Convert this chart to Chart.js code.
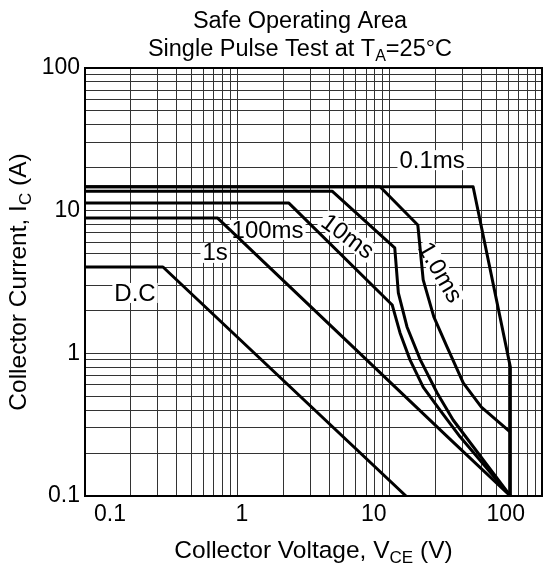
<!DOCTYPE html>
<html>
<head>
<meta charset="utf-8">
<script src="https://cdn.jsdelivr.net/npm/chart.js@4.4.0/dist/chart.umd.min.js"></script>
<style>
  html, body { margin: 0; padding: 0; background: #fff; }
  #wrap { width: 556px; height: 565px; }
</style>
</head>
<body>
<div id="wrap"><canvas id="soa" width="556" height="565"></canvas></div>
<script>
// curve points as [V_CE (V), I_C (A)]
const curveDC = [[0.1, 4.03], [0.325, 4.03], [12.8, 0.1]];
const curve1s = [[0.1, 8.9], [0.74, 8.9], [24, 0.26], [62, 0.1]];
const curve100ms = [[0.1, 11.3], [2.18, 11.3], [10.4, 2.18], [11.7, 1.39], [13.6, 0.9],
  [16.6, 0.58], [21.4, 0.4], [29, 0.26], [62, 0.1]];
const curve10ms = [[0.1, 13.7], [4.19, 13.7], [10.8, 5.49], [11.4, 2.65], [13, 1.53],
  [15.9, 0.9], [20.5, 0.527], [26.1, 0.341], [62, 0.1]];
const curve1ms = [[0.1, 14.7], [8.65, 14.7], [15.3, 7.94], [16.6, 3.27], [19.5, 1.8], [23.8, 1.11],
  [30.4, 0.62], [40, 0.42], [62, 0.28]];
const curve01ms = [[0.1, 14.7], [35.3, 14.7], [62, 0.8], [62, 0.1]];

const xTickLabels = ['0.1', '1', '10', '100'];
const yTickLabels = [0.1, 1, 10, 100];

const curveLabels = [
  { text: '0.1ms', v: 19.0, i: 22.6, angle: 0 },
  { text: '1.0ms', v: 21.5, i: 3.7, angle: 60 },
  { text: '10ms', v: 5.3, i: 6.6, angle: 36 },
  { text: '100ms', v: 1.58, i: 7.33, angle: 0 },
  { text: '1s', v: 0.715, i: 5.06, angle: 0 },
  { text: 'D.C', v: 0.213, i: 2.65, angle: 0 }
];

const FONT = '"Liberation Sans", Arial, sans-serif';

// log grid: 1..9 per decade
function logGrid(min, max) {
    const out = [];
    for (let e = Math.floor(Math.log10(min)); e <= Math.ceil(Math.log10(max)); e++) {
        for (let d = 1; d <= 9; d++) {
            const v = parseFloat((d * Math.pow(10, e)).toPrecision(3));
            if (v >= min && v <= max) out.push({ value: v });
        }
    }
    return out;
}

function drawRich(ctx, parts, x, y, size) {
    let w = 0;
    parts.forEach(p => {
        ctx.font = (p.sub ? Math.round(size * 0.68) : size) + 'px ' + FONT;
        p.w = ctx.measureText(p.t).width;
        w += p.w;
    });
    let cx = x - w / 2;
    ctx.textAlign = 'left';
    ctx.textBaseline = 'alphabetic';
    parts.forEach(p => {
        ctx.font = (p.sub ? Math.round(size * 0.68) : size) + 'px ' + FONT;
        ctx.fillText(p.t, cx, p.sub ? y + size * 0.22 : y);
        cx += p.w;
    });
}

const textPlugin = {
    id: 'textPlugin',
    beforeDatasetsDraw(chart) {
        const { ctx, scales } = chart;
        ctx.save();
        ctx.font = '24px ' + FONT;
        ctx.textAlign = 'center';
        ctx.textBaseline = 'middle';
        curveLabels.forEach(l => {
            const px = scales.x.getPixelForValue(l.v);
            const py = scales.y.getPixelForValue(l.i);
            const w = ctx.measureText(l.text).width;
            ctx.save();
            ctx.translate(px, py);
            ctx.rotate(l.angle * Math.PI / 180);
            ctx.fillStyle = '#fff';
            ctx.fillRect(-w / 2 - 2, -10, w + 4, 20);
            ctx.fillStyle = '#000';
            ctx.fillText(l.text, 0, 1);
            ctx.restore();
        });
        ctx.restore();
    },
    afterDraw(chart) {
        const { ctx, chartArea: a } = chart;
        ctx.save();
        ctx.strokeStyle = '#000';
        ctx.lineWidth = 2;
        ctx.strokeRect(a.left, a.top, a.right - a.left, a.bottom - a.top);
        ctx.fillStyle = '#000';
        drawRich(ctx, [{ t: 'Safe Operating Area' }], 300, 28, 23.5);
        drawRich(ctx, [{ t: 'Single Pulse Test at T' }, { t: 'A', sub: true }, { t: '=25°C' }], 300, 56, 23.5);
        drawRich(ctx, [{ t: 'Collector Voltage, V' }, { t: 'CE', sub: true }, { t: ' (V)' }],
            (a.left + a.right) / 2, 558, 24.5);
        ctx.translate(18, (a.top + a.bottom) / 2);
        ctx.rotate(-Math.PI / 2);
        drawRich(ctx, [{ t: 'Collector Current, I' }, { t: 'C', sub: true }, { t: ' (A)' }], 0, 8, 24.5);
        ctx.restore();
    }
};

function makeSet(points) {
    return {
        data: points.map(p => ({ x: p[0], y: p[1] })),
        borderColor: '#000',
        borderWidth: 3,
        pointRadius: 0,
        tension: 0,
        fill: false,
        borderJoinStyle: 'round'
    };
}

new Chart(document.getElementById('soa'), {
    type: 'line',
    data: {
        datasets: [curveDC, curve1s, curve100ms, curve10ms, curve1ms, curve01ms].map(makeSet)
    },
    options: {
        responsive: false,
        animation: false,
        events: [],
        layout: { padding: { top: 68, right: 14, left: 0, bottom: 0 } },
        plugins: { legend: { display: false }, tooltip: { enabled: false }, title: { display: false } },
        scales: {
            x: {
                type: 'logarithmic',
                min: 0.1,
                max: 100,
                weight: 0,
                afterBuildTicks: s => { s.ticks = logGrid(0.1, 100); },
                afterFit: s => { s.height = 0; },
                ticks: { display: false },
                grid: { color: '#333', lineWidth: 1, drawTicks: false },
                border: { color: '#000', width: 2 }
            },
            xl: {
                type: 'linear',
                position: 'bottom',
                min: -0.19,
                max: 3.275,
                weight: 1,
                afterBuildTicks: s => { s.ticks = xTickLabels.map((_, k) => ({ value: k })); },
                afterFit: s => { s.height = 69; },
                ticks: {
                    color: '#000',
                    font: { size: 23, family: FONT },
                    padding: 5,
                    autoSkip: false,
                    maxRotation: 0,
                    callback: v => xTickLabels[v]
                },
                grid: { display: false, drawTicks: false },
                border: { display: false }
            },
            y: {
                type: 'logarithmic',
                min: 0.1,
                max: 100,
                afterBuildTicks: s => { s.ticks = logGrid(0.1, 100); },
                afterFit: s => { s.width = 85; },
                ticks: {
                    color: '#000',
                    font: { size: 23, family: FONT },
                    padding: 5,
                    autoSkip: false,
                    callback: v => yTickLabels.find(t => Math.abs(t - v) < 1e-9) !== undefined ? String(v) : ''
                },
                grid: { color: '#333', lineWidth: 1, drawTicks: false },
                border: { color: '#000', width: 2 }
            }
        }
    },
    plugins: [textPlugin]
});
</script>
</body>
</html>
